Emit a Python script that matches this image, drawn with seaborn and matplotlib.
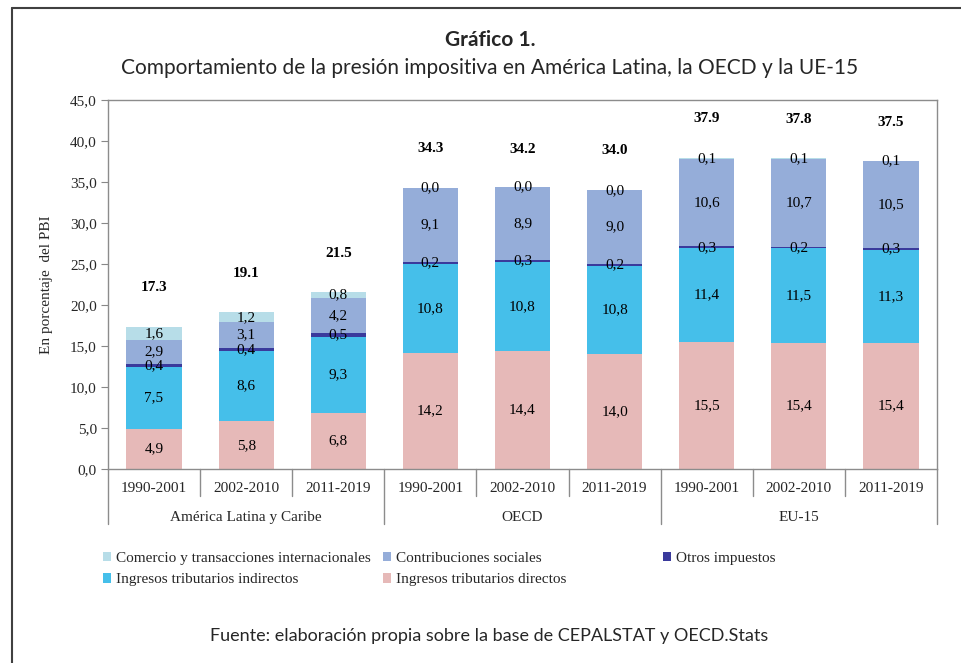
import matplotlib
matplotlib.use("Agg")
import matplotlib.pyplot as plt
import matplotlib.transforms as mtransforms
from matplotlib.patches import Patch
from matplotlib.lines import Line2D
import pandas as pd
import seaborn as sns

# datos (en porcentaje del PBI)
grupos = ["América Latina y Caribe", "OECD", "EU-15"]
periodos = ["1990-2001", "2002-2010", "2011-2019"]

directos = [4.9, 5.8, 6.8, 14.2, 14.4, 14.0, 15.5, 15.4, 15.4]
indirectos = [7.5, 8.6, 9.3, 10.8, 10.8, 10.8, 11.4, 11.5, 11.3]
otros = [0.4, 0.4, 0.5, 0.2, 0.3, 0.2, 0.3, 0.2, 0.3]
contribuciones = [2.9, 3.1, 4.2, 9.1, 8.9, 9.0, 10.6, 10.7, 10.5]
comercio = [1.6, 1.2, 0.8, 0.0, 0.0, 0.0, 0.1, 0.1, 0.1]
totales = [17.3, 19.1, 21.5, 34.3, 34.2, 34.0, 37.9, 37.8, 37.5]

series = [
    ("Ingresos tributarios directos", directos, "#E6B9B8"),
    ("Ingresos tributarios indirectos", indirectos, "#45BFEA"),
    ("Otros impuestos", otros, "#3A3A9C"),
    ("Contribuciones sociales", contribuciones, "#95ADD9"),
    ("Comercio y transacciones internacionales", comercio, "#B7DDE8"),
]

claves = [f"{g}|{p}" for g in grupos for p in periodos]
df = pd.DataFrame({"clave": claves})
acum = [0.0] * len(claves)
bases = []
for nombre, vals, color in series:
    bases.append(list(acum))
    acum = [a + v for a, v in zip(acum, vals)]
    df[nombre] = acum

serif = ["Liberation Serif", "DejaVu Serif"]
sans = ["Lato", "DejaVu Sans"]

sns.set_style("white")
plt.rcParams["font.family"] = serif

fig = plt.figure(figsize=(9.61, 6.63), dpi=100)
ax = fig.add_axes([108 / 961, 1 - 469 / 663, (937 - 108) / 961, (469 - 100) / 663])

# barras apiladas: se dibujan de la mas alta a la mas baja
for nombre, vals, color in reversed(series):
    sns.barplot(data=df, x="clave", y=nombre, order=claves, color=color,
                saturation=1, width=0.6, ax=ax, edgecolor="none")

# etiquetas de cada segmento
for (nombre, vals, color), base in zip(series, bases):
    for i, (v, b) in enumerate(zip(vals, base)):
        ax.text(i, b + v / 2, f"{v:.1f}".replace(".", ","), ha="center",
                va="center", fontsize=11, color="black")

for i, t in enumerate(totales):
    ax.text(i, t + 4.8, f"{t:.1f}", ha="center", va="center", fontsize=11,
            fontweight="bold", color="black")

ax.set_ylim(0, 45)
ax.set_xlim(-0.5, len(claves) - 0.5)
ax.set_yticks(range(0, 46, 5))
ax.set_yticklabels([f"{v:.1f}".replace(".", ",") for v in range(0, 46, 5)], fontsize=11)
ax.tick_params(axis="y", direction="out", length=5, color="#888888", left=True, pad=3)
ax.set_xticks([])
ax.set_xlabel("")
ax.set_ylabel("En porcentaje  del PBI", fontsize=11, labelpad=12)
for s in ax.spines.values():
    s.set_color("#8c8c8c")
    s.set_linewidth(1)

# eje x de dos niveles
trans = mtransforms.blended_transform_factory(ax.transData, ax.transAxes)
for i, k in enumerate(claves):
    ax.text(i, -0.054, k.split("|")[1], transform=trans, ha="center",
            va="center", fontsize=11)
for j, g in enumerate(grupos):
    ax.text(j * 3 + 1, -0.131, g, transform=trans, ha="center", va="center",
            fontsize=11)
for i in range(len(claves) + 1):
    fondo = -0.148 if i % 3 == 0 else -0.072
    ax.plot([i - 0.5, i - 0.5], [0, fondo], transform=trans, color="#8c8c8c",
            lw=1, clip_on=False)

# leyenda en tres columnas
col = {n: c for n, v, c in series}
columnas = [
    (103, ["Comercio y transacciones internacionales", "Ingresos tributarios indirectos"]),
    (383, ["Contribuciones sociales", "Ingresos tributarios directos"]),
    (663, ["Otros impuestos"]),
]
for x0, nombres in columnas:
    handles = [Patch(facecolor=col[n], edgecolor="none") for n in nombres]
    fig.legend(handles, nombres, loc="upper left",
               bbox_to_anchor=(x0 / 961, 1 - 552 / 663), frameon=False,
               fontsize=11, handlelength=0.55, handleheight=0.55,
               handletextpad=0.3, labelspacing=0.55, borderaxespad=0,
               borderpad=0)

# titulos y fuente
fig.text(490 / 961, 1 - 40 / 663, "Gráfico 1.", ha="center", va="center",
         fontsize=15, fontweight="bold", family=sans)
fig.text(490 / 961, 1 - 68 / 663,
         "Comportamiento de la presión impositiva en América Latina, la OECD y la UE-15",
         ha="center", va="center", fontsize=15, family=sans)
fig.text(489 / 961, 1 - 636 / 663,
         "Fuente: elaboración propia sobre la base de CEPALSTAT y OECD.Stats",
         ha="center", va="center", fontsize=13, family=sans)

# marco exterior
xl, yt = 12 / 961, 1 - 8 / 663
fig.add_artist(Line2D([xl, xl], [0, yt], color="#404040", lw=1.5))
fig.add_artist(Line2D([xl, 1], [yt, yt], color="#404040", lw=1.5))

fig.savefig("out.png", dpi=100)
